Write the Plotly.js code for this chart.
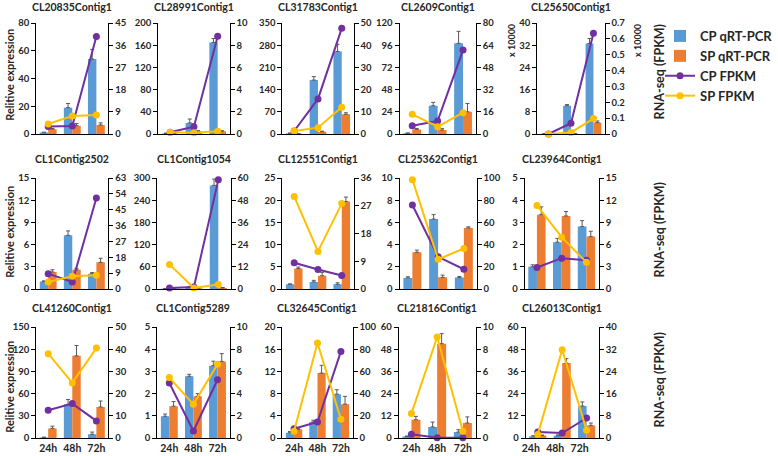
<!DOCTYPE html>
<html>
<head>
<meta charset="utf-8">
<script src="https://cdn.plot.ly/plotly-3.0.1.min.js"></script>
<style>html,body{margin:0;padding:0;background:#fff;}#chart{width:778px;height:456px;}</style>
</head>
<body>
<div id="chart"></div>
<script>
// ---------- DATA ----------
const timePoints = ['24h', '48h', '72h'];
const geneTitles = ['CL20835Contig1','CL28991Contig1','CL31783Contig1','CL2609Contig1','CL25650Contig1',
  'CL1Contig2502','CL1Contig1054','CL12551Contig1','CL25362Contig1','CL23964Contig1',
  'CL41260Contig1','CL1Contig5289','CL32645Contig1','CL21816Contig1','CL26013Contig1'];
const seriesNames = ['CP qRT-PCR', 'SP qRT-PCR', 'CP FPKM', 'SP FPKM'];

// qRT-PCR relative expression (left axis)
const cpQ = [[1,19,54],[1,20,165],[2,170,260],[0.8,30.5,98],[0.1,10.2,32.6],
  [1.0,7.25,2.07],[1,5,280],[1.05,1.6,1.05],[1.0,6.3,1.03],[1.0,2.11,2.81],
  [0.8,45.5,5],[0.98,2.78,3.26],[0.96,2.9,7.9],[0.8,6,3.2],[1,1.2,17.3]];
const cpQErr = [[0.3,3,7],[0.5,7,7],[1,11,23],[0.3,3.7,13],[0.05,0.4,1.8],
  [0.1,0.6,0.15],[0.5,2,17],[0.1,0.35,0.35],[0.1,0.4,0.1],[0.09,0.17,0.27],
  [0.3,6.5,3],[0.1,0.09,0.2],[0.2,0.3,0.8],[0.3,2.6,1.3],[0.2,0.5,2.2]];
const spQ = [[3.5,6,6.5],[0.5,5,5],[1,7,62],[5,4.3,24],[0.05,0.1,4.1],
  [2.3,2.6,3.6],[1,2,3],[4.6,3.0,19.7],[3.3,1.05,5.5],[3.35,3.29,2.36],
  [13,111,42],[1.43,1.88,3.45],[1.56,11.7,6.1],[9.9,51,8.1],[1.4,40.5,6.8]];
const spQErr = [[0.5,1.5,1.5],[0.3,1,1],[0.5,2,5],[1,1.5,9],[0.02,0.05,0.6],
  [0.3,0.2,0.55],[0.5,0.5,1],[0.35,0.75,1.0],[0.2,0.2,0.1],[0.35,0.2,0.24],
  [3,14,8],[0.21,0.12,0.35],[0.1,1.4,1.4],[1.8,5.4,3.3],[0.2,2.4,1.3]];

// RNA-seq FPKM (right axis)
const cpF = [[3.0,3.2,39.5],[0.15,0.66,8.8],[1.35,15.8,47.6],[6,9.4,60.5],[0,0.068,0.636],
  [8.7,4.0,51.6],[0.5,1.1,59],[8.5,6.3,4.4],[75.7,29,17.8],[2.9,4.17,3.9],
  [12.5,15.5,7.7],[4.95,0.63,5.25],[8.4,14.4,78],[0.33,0.03,0.03],[2.2,1.8,7.2]];
const spF = [[4.1,7.3,7.7],[0.15,0.12,0.24],[1.35,2.85,12],[14.2,5.3,15.4],[0,0.01,0.097],
  [4.0,7.2,7.8],[13.3,0.5,2.5],[30,12.2,27.7],[98.5,26.7,36.5],[11.3,7.0,3.6],
  [38,24.8,40.5],[5.44,3.03,6.64],[6,85.6,16.8],[2.2,9.1,0.6],[1.3,31.8,2.8]];

// axis scales [max, tick step]
const leftAxis = [[80,20],[200,40],[350,70],[120,24],[40,8],[15,3],[300,60],[25,5],[10,2],[5,1],
  [150,30],[5,1],[20,4],[60,12],[60,12]];
const rightAxis = [[45,9],[10,2],[50,10],[80,16],[0.7,0.1],[63,9],[60,12],[36,9],[100,20],[15,3],
  [50,10],[10,2],[100,20],[10,2],[40,8]];

// ---------- LAYOUT GEOMETRY (pixels) ----------
const W = 778, H = 456;
const panelX = [[37,111],[162,235],[289,362],[409,487],[550,619],
  [37,111],[161,236],[289,362],[409,488],[537,613],
  [37,111],[161,235],[289,361],[408,487],[538,613]];
const rowY = [[23,134],[178,289],[327,438]];
const titleY = [7, 159, 308];

const FONT = 'Lato, "Open Sans", sans-serif';
const TXT = '#262626';
const colors = {cpBar:'#5B9BD5', spBar:'#ED7D31', cpLine:'#7030A0', spLine:'#FFC000'};

const traces = [];
const layout = {
  width: W, height: H,
  margin: {l:0, r:0, t:0, b:0},
  paper_bgcolor: '#fff', plot_bgcolor: 'rgba(0,0,0,0)',
  barmode: 'group', bargap: 0.3, bargroupgap: 0,
  showlegend: true,
  legend: {x: 676/W, y: 1 - 21/H, xanchor: 'left', yanchor: 'top',
    font: {family: FONT, size: 13, color: TXT, weight: 'bold'},
    bgcolor: 'rgba(0,0,0,0)', itemwidth: 30, tracegroupgap: 0},
  annotations: [],
  font: {family: FONT}
};

function axName(prefix, n) { return prefix + 'axis' + (n === 1 ? '' : n); }
function axRef(prefix, n) { return prefix + (n === 1 ? '' : n); }

for (let i = 0; i < 15; i++) {
  const row = Math.floor(i / 5);
  const xn = i + 1, yl = 2 * i + 1, yr = 2 * i + 2;
  const xr = axRef('x', xn), ylr = axRef('y', yl), yrr = axRef('y', yr);
  const [px0, px1] = panelX[i];
  const [py0, py1] = rowY[row];
  const first = i === 0;

  traces.push({type:'bar', name: seriesNames[0], x: timePoints, y: cpQ[i], xaxis: xr, yaxis: ylr,
    marker:{color: colors.cpBar}, showlegend: first, legendgroup:'a',
    error_y:{type:'data', symmetric:false, array: cpQErr[i], arrayminus:[0,0,0], color:'#595959', thickness:1, width:2}});
  traces.push({type:'bar', name: seriesNames[1], x: timePoints, y: spQ[i], xaxis: xr, yaxis: ylr,
    marker:{color: colors.spBar}, showlegend: first, legendgroup:'b',
    error_y:{type:'data', symmetric:false, array: spQErr[i], arrayminus:[0,0,0], color:'#595959', thickness:1, width:2}});
  traces.push({type:'scatter', mode:'lines+markers', name: seriesNames[2], x: timePoints, y: cpF[i], xaxis: xr, yaxis: yrr,
    line:{color: colors.cpLine, width:2}, marker:{color: colors.cpLine, size:7}, cliponaxis:false,
    showlegend: first, legendgroup:'c'});
  traces.push({type:'scatter', mode:'lines+markers', name: seriesNames[3], x: timePoints, y: spF[i], xaxis: xr, yaxis: yrr,
    line:{color: colors.spLine, width:2}, marker:{color: colors.spLine, size:7}, cliponaxis:false,
    showlegend: first, legendgroup:'d'});

  layout[axName('x', xn)] = {
    domain: [px0 / W, px1 / W], anchor: ylr, type: 'category', range: [-0.5, 2.5],
    showline: true, linecolor: '#000', linewidth: 1, ticks: '', showgrid: false, zeroline: false,
    showticklabels: row === 2, tickfont: {family: FONT, size: 10.5, color: TXT, weight: 'bold'},
    ticklabelshift: i === 14 ? -7 : 0, fixedrange: true
  };
  layout[axName('y', yl)] = {
    domain: [1 - py1 / H, 1 - py0 / H], anchor: xr, range: [0, leftAxis[i][0]],
    tick0: 0, dtick: leftAxis[i][1], showline: true, linecolor: '#000', linewidth: 1,
    ticks: 'outside', ticklen: 4, tickcolor: '#000', showgrid: false, zeroline: false,
    tickfont: {family: FONT, size: 9.5, color: TXT, weight: 'bold'}, fixedrange: true
  };
  layout[axName('y', yr)] = {
    overlaying: ylr, side: 'right', anchor: xr, range: [0, rightAxis[i][0]],
    tick0: 0, dtick: rightAxis[i][1], showline: true, linecolor: '#000', linewidth: 1,
    ticks: 'outside', ticklen: 4, tickcolor: '#000', showgrid: false, zeroline: false,
    tickfont: {family: FONT, size: 9.5, color: TXT, weight: 'bold'}, fixedrange: true
  };

  layout.annotations.push({text: geneTitles[i], xref:'paper', yref:'paper',
    x: (px0 + px1) / 2 / W, y: 1 - titleY[row] / H, xanchor:'center', yanchor:'middle', showarrow:false,
    font:{family: FONT, size: 10.5, color: TXT, weight:'bold'}});
}

// Row axis titles
const rowCentersLeft = [75, 232, 387];
const rowCentersRight = [72, 230, 380];
for (let r = 0; r < 3; r++) {
  layout.annotations.push({text:'Relitive expression', xref:'paper', yref:'paper',
    x: 9 / W, y: 1 - rowCentersLeft[r] / H, xanchor:'center', yanchor:'middle', textangle:-90, showarrow:false,
    font:{family: FONT, size: 11, color: TXT, weight:'bold'}});
  layout.annotations.push({text:'RNA-seq (FPKM)', xref:'paper', yref:'paper',
    x: 675 / W, y: 1 - rowCentersRight[r] / H, xanchor:'center', yanchor:'middle', textangle:-90, showarrow:false,
    font:{family: FONT, size: 12.5, color: TXT, weight:'bold'}});
}
// scale multipliers on CL25650Contig1
[523, 652].forEach(px => layout.annotations.push({text:'x 10000', xref:'paper', yref:'paper',
  x: px / W, y: 1 - 40 / H, xanchor:'center', yanchor:'middle', textangle:-90, showarrow:false,
  font:{family: FONT, size: 9, color: TXT, weight:'bold'}}));

Plotly.newPlot('chart', traces, layout, {displayModeBar:false, staticPlot:true});
</script>
</body>
</html>
